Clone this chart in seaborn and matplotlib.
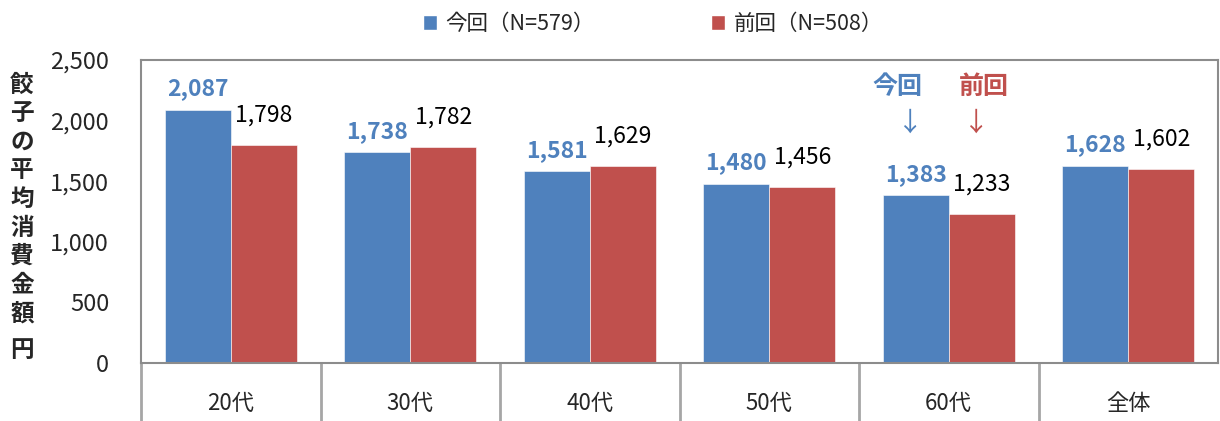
import numpy as np
import pandas as pd
import seaborn as sns
import matplotlib.pyplot as plt
from matplotlib.patches import Patch
import matplotlib.transforms as mtransforms

# %% Data

ages = ["20代", "30代", "40代", "50代", "60代", "全体"]
series_names = ["今回（N=579）", "前回（N=508）"]
values_now = [2087, 1738, 1581, 1480, 1383, 1628]
values_prev = [1798, 1782, 1629, 1456, 1233, 1602]

COL_NOW = "#4F81BD"
COL_PREV = "#C0504D"
COL_FRAME = "#8C8C8C"
COL_SEP = "#A6A6A6"

df = pd.DataFrame({
    "age": ages * 2,
    "value": values_now + values_prev,
    "survey": [series_names[0]] * len(ages) + [series_names[1]] * len(ages),
})

# %% Plot

sns.set_style("white")
plt.rcParams['font.family'] = ['Noto Sans CJK JP', 'DejaVu Sans']

fig = plt.figure(figsize=(12.2, 4.21), dpi=100)
ax = fig.add_axes([141/1220, 1 - 363/421, (1218-141)/1220, (363-60)/421])

bar_width = 0.735
sns.barplot(data=df, x="age", y="value", hue="survey", order=ages,
            hue_order=series_names, palette=[COL_NOW, COL_PREV],
            width=bar_width, saturation=1, gap=0, ax=ax,
            edgecolor="white", linewidth=0.4)
ax.legend().remove()

ax.set_ylim(0, 2500)
ax.set_xlim(-0.5, len(ages) - 0.5)
ax.set_yticks(np.arange(0, 2501, 500))
ax.set_yticklabels([f"{v:,}" for v in np.arange(0, 2501, 500)])
ax.tick_params(axis="y", length=0, pad=23, labelsize=17)
ax.tick_params(axis="x", length=0, pad=21, labelsize=16)
ax.set_xlabel("")
ax.set_ylabel("")

for s in ax.spines.values():
    s.set_visible(True)
    s.set_color(COL_FRAME)
    s.set_linewidth(1.5)

# Category separators below the axis
trans = mtransforms.blended_transform_factory(ax.transData, ax.transAxes)
for edge in np.arange(len(ages)) - 0.5:
    ax.plot([edge, edge], [0, -58/303], transform=trans, color=COL_SEP,
            linewidth=2, clip_on=False)

# Data labels
ax.bar_label(ax.containers[0], labels=[f"{v:,}" for v in values_now],
             padding=7, fontsize=16.5, fontweight="bold", color=COL_NOW)
ax.bar_label(ax.containers[1], labels=[f"{v:,}" for v in values_prev],
             padding=13, fontsize=16.5, color="black")

# 今回 / 前回 markers over 60代
i60 = ages.index("60代")
ax.text(i60 - bar_width/4 - 0.1, 2275, "今回", ha="center", va="center",
        fontsize=18, fontweight="bold", color=COL_NOW)
ax.text(i60 + bar_width/4 + 0.01, 2275, "前回", ha="center", va="center",
        fontsize=18, fontweight="bold", color=COL_PREV)
ax.text(i60 - bar_width/4 - 0.03, 1975, "↓", ha="center", va="center",
        fontsize=19, color=COL_NOW)
ax.text(i60 + bar_width/4 - 0.03, 1975, "↓", ha="center", va="center",
        fontsize=19, color=COL_PREV)

# Vertical stacked y label
fig.text(22/1220, 1 - 199/421, "餃\n子\nの\n平\n均\n消\n費\n金\n額",
         ha="center", va="center", fontsize=17, fontweight="bold",
         linespacing=1.24)
fig.text(22/1220, 1 - 350/421, "円", ha="center", va="center",
         fontsize=17, fontweight="bold")

# Legend
handles = [Patch(facecolor=COL_NOW, label=series_names[0]),
           Patch(facecolor=COL_PREV, label=series_names[1])]
fig.legend(handles=handles, loc="center", bbox_to_anchor=(653/1220, 1 - 24/421),
           ncol=2, frameon=False, fontsize=15.5, handlelength=0.65,
           handleheight=0.65, handletextpad=0.4, columnspacing=5.4)

fig.savefig("out.png", dpi=100)
